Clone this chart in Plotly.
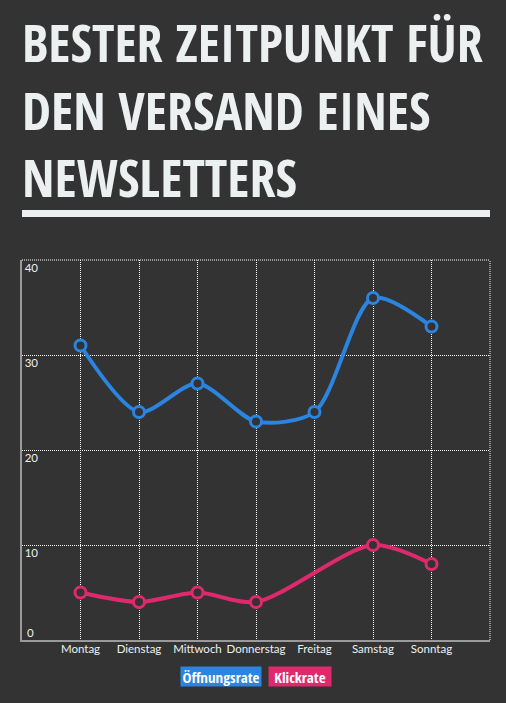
import plotly.graph_objects as go

days = ["Montag", "Dienstag", "Mittwoch", "Donnerstag", "Freitag", "Samstag", "Sonntag"]
oeffnungsrate = [31, 24, 27, 23, 24, 36, 33]
klickrate = [5, 4, 5, 4, None, 10, 8]
y_ticks = [10, 20, 30, 40]
y_tick_zero = [0]
title_lines = ["BESTER ZEITPUNKT FÜR", "DEN VERSAND EINES", "NEWSLETTERS"]
series_names = ["Öffnungsrate", "Klickrate"]

BG = "#333333"
BLUE = "#2b84df"
PINK = "#de2a6d"
TXT = "#ecf0f1"
GRID = "#ffffff"
AXIS = "#9a9a9a"
TITLE_FONT = "Open Sans Condensed, Roboto Condensed, sans-serif"
TICK_FONT = dict(family="Lato, sans-serif", size=11.5, color=TXT)

W, H = 506, 703
L, R, T, B = 22, 16, 260, 63
PH = H - T - B
PW = W - L - R


def py(px):
    """pixel row -> paper y"""
    return (H - B - px) / PH


def pxx(px):
    return (px - L) / PW


xs = list(range(len(days)))

fig = go.Figure()
for name, vals, col in [(series_names[0], oeffnungsrate, BLUE), (series_names[1], klickrate, PINK)]:
    fig.add_trace(go.Scatter(
        x=xs, y=vals, name=name, mode="lines+markers",
        line=dict(color=col, width=4, shape="spline", smoothing=0.8),
        marker=dict(symbol="circle", size=11, color=BG, line=dict(color=col, width=3)),
        connectgaps=True, showlegend=False,
    ))

# invisible trace to anchor the secondary y axis (holds the "0" label above the baseline)
fig.add_trace(go.Scatter(x=[None], y=[None], yaxis="y2", showlegend=False, hoverinfo="skip"))

fig.update_layout(
    width=W, height=H,
    paper_bgcolor=BG, plot_bgcolor=BG,
    margin=dict(l=L, r=R, t=T, b=B),
    xaxis=dict(
        range=[-1, len(days)],
        tickvals=xs, ticktext=days,
        showgrid=True, gridcolor=GRID, griddash="1px,1px", gridwidth=1,
        zeroline=False, showline=True, linecolor=AXIS, linewidth=2,
        ticks="", tickfont=TICK_FONT, ticklabelstandoff=-3,
    ),
    yaxis=dict(
        range=[0, 40], tickvals=y_ticks,
        showgrid=True, gridcolor=GRID, griddash="1px,1px", gridwidth=1,
        zeroline=False, showline=True, linecolor=AXIS, linewidth=2,
        ticks="", ticklabelposition="inside", ticklabelshift=8, ticklabelstandoff=2,
        ticklabeloverflow="allow",
        tickfont=TICK_FONT,
    ),
    yaxis2=dict(
        range=[0, 40], tickvals=y_tick_zero, overlaying="y", side="left",
        showgrid=False, zeroline=False, showline=False,
        ticks="", ticklabelposition="inside", ticklabelshift=-7, ticklabelstandoff=2,
        ticklabeloverflow="allow",
        tickfont=TICK_FONT,
    ),
)

# top and right dotted frame lines
fig.add_shape(type="line", xref="paper", yref="paper", x0=0, x1=1, y0=1, y1=1,
              line=dict(color=GRID, width=1, dash="1px,1px"))
fig.add_shape(type="line", xref="paper", yref="paper", x0=1, x1=1, y0=0, y1=1,
              line=dict(color=GRID, width=1, dash="1px,1px"))

# title (one multi-line text block)
fig.add_annotation(text="<br>".join("<b>" + t + "</b>" for t in title_lines),
                   xref="paper", yref="paper", align="left",
                   x=pxx(20), y=py(108.5), xanchor="left", yanchor="middle", showarrow=False,
                   font=dict(family=TITLE_FONT, size=52, color=TXT))

# underline bar under title
fig.add_shape(type="rect", xref="paper", yref="paper",
              x0=0, x1=1, y0=py(217), y1=py(210), line_width=0, fillcolor=TXT)

# legend badges
for name, col, cx, w in [(series_names[0], BLUE, 221, 80), (series_names[1], PINK, 300, 62)]:
    fig.add_annotation(text="<b>" + name + "</b>", xref="paper", yref="paper",
                       x=pxx(cx), y=py(676.5), showarrow=False, width=w, height=19,
                       font=dict(family=TITLE_FONT, size=15, color="#ffffff"),
                       bgcolor=col, borderpad=0, xanchor="center", yanchor="middle", align="center")

fig.write_html("out.html")
